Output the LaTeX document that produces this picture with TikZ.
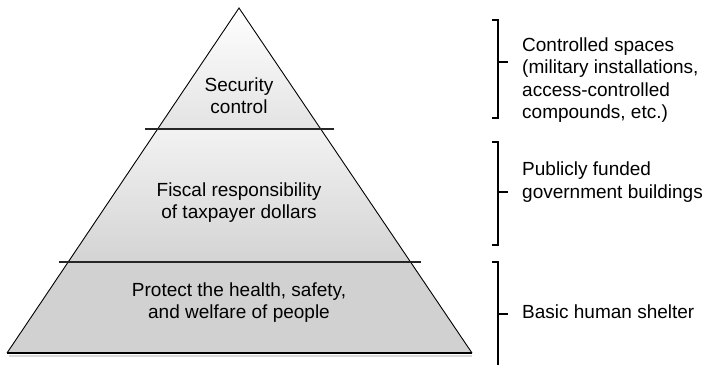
\documentclass[tikz,border=0pt]{standalone}
\usepackage{fontspec}
\setmainfont{Liberation Sans}
\begin{document}
\begin{tikzpicture}[x=1pt,y=-1pt,
  lbl/.style={align=center,font=\fontsize{19}{22}\selectfont,inner sep=0pt},
  rlbl/.style={align=left,anchor=west,font=\fontsize{19}{22.5}\selectfont,inner sep=0pt},
  divider/.style={line width=2.4pt,black!85},
  edge/.style={line width=0.9pt},
  brk/.style={line width=1.1pt}]
\useasboundingbox (0,0) rectangle (703,365);
% geometry
\coordinate (apex) at (239,8);
\coordinate (bl) at (7,353);
\coordinate (br) at (472,353);
\path (apex) -- (bl) coordinate[pos=0.3507] (l1) coordinate[pos=0.7362] (l2);
\path (apex) -- (br) coordinate[pos=0.3507] (r1) coordinate[pos=0.7362] (r2);
% fills
\shade[top color=white,bottom color=black!11] (apex) -- (l1) -- (r1) -- cycle;
\shade[top color=black!5,bottom color=black!17] (l1) -- (l2) -- (r2) -- (r1) -- cycle;
\fill[black!18] (l2) -- (bl) -- (br) -- (r2) -- cycle;
% shadow under base
\draw[black!15,line width=1.5pt] (9,356) -- (472,356);
% outline
\draw[edge,line join=miter] (bl) -- (apex) -- (br);
\draw[line width=1.6pt] (bl) -- (br);
% dividers
\coordinate (d1a) at (145,129);
\coordinate (d1b) at (334,129);
\coordinate (d2a) at (59,262);
\coordinate (d2b) at (421,262);
\draw[divider] (d1a) -- (d1b);
\draw[divider] (d2a) -- (d2b);
% labels
\node[lbl] (top) at (239,96) {Security\\control};
\node[lbl] (mid) at (239,203) {Fiscal responsibility\\of taxpayer dollars};
\node[lbl] (bot) at (239,303) {Protect the health, safety,\\and welfare of people};
% brackets
\draw[brk] (492,20) -- (498,20) -- (498,118) -- (492,118);
\draw[brk] (498,62) -- (508,62);
\draw[brk] (492,142) -- (498,142) -- (498,245) -- (492,245);
\draw[brk] (498,192) -- (508,192);
\draw[brk] (492,262) -- (498,262) -- (498,365);
\draw[brk] (498,314) -- (508,314);
% right labels
\node[rlbl] (r1lbl) at (522,80) {Controlled spaces\\(military installations,\\access-controlled\\compounds, etc.)};
\node[rlbl] (r2lbl) at (522,182) {Publicly funded\\government buildings};
\node[rlbl] (r3lbl) at (522,312) {Basic human shelter};
\end{tikzpicture}
\end{document}
